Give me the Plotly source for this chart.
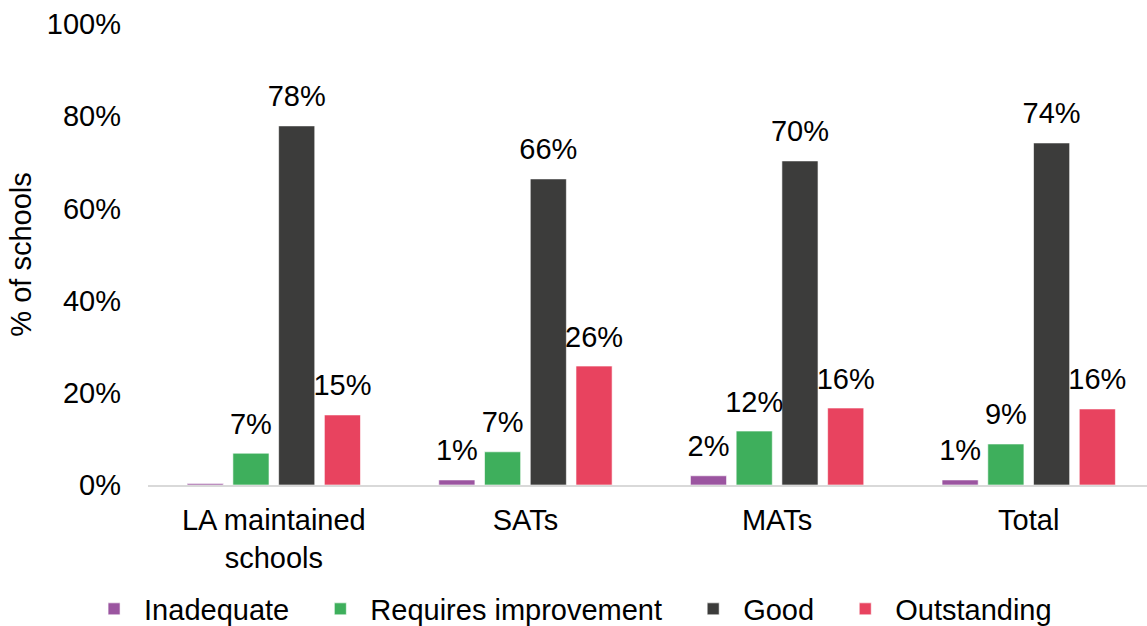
import plotly.graph_objects as go

categories = ["LA maintained<br>schools", "SATs", "MATs", "Total"]
inadequate = [0.3, 1.1, 2.0, 1.1]
requires_improvement = [6.9, 7.2, 11.7, 8.9]
good = [77.9, 66.4, 70.3, 74.2]
outstanding = [15.2, 25.8, 16.7, 16.5]
inadequate_labels = ["", "1%", "2%", "1%"]
requires_labels = ["7%", "7%", "12%", "9%"]
good_labels = ["78%", "66%", "70%", "74%"]
outstanding_labels = ["15%", "26%", "16%", "16%"]
y_ticks = [0, 20, 40, 60, 80, 100]
y_tick_labels = ["0%", "20%", "40%", "60%", "80%", "100%"]

series = [
    ("Inadequate", inadequate, inadequate_labels, "#9B55A0"),
    ("Requires improvement", requires_improvement, requires_labels, "#3EAF5C"),
    ("Good", good, good_labels, "#3C3C3B"),
    ("Outstanding", outstanding, outstanding_labels, "#E8435F"),
]

FS = 29
NBSP = "\u00a0"
fig = go.Figure()
for i, (name, vals, labels, color) in enumerate(series):
    legend_name = name + (NBSP * 2 if i < len(series) - 1 else "")
    fig.add_trace(go.Bar(
        name=legend_name, x=categories, y=vals,
        offsetgroup=str(i), alignmentgroup="a",
        marker=dict(color=color, line=dict(color="rgba(255,255,255,0.6)", width=1)),
        hoverinfo="skip",
    ))
for i, (name, vals, labels, color) in enumerate(series):
    fig.add_trace(go.Scatter(
        x=categories, y=vals, text=labels, mode="markers+text",
        offsetgroup=str(i), alignmentgroup="a",
        marker=dict(size=18, opacity=0), textposition="top center",
        textfont=dict(size=FS, color="#000000"),
        showlegend=False, hoverinfo="skip", cliponaxis=False,
    ))

fig.update_layout(
    width=1147, height=626,
    margin=dict(l=148, r=0, t=24, b=141, autoexpand=False),
    paper_bgcolor="white", plot_bgcolor="white",
    font=dict(family="Liberation Sans, Arial, sans-serif", size=FS, color="#000000"),
    barmode="group", bargap=0.273, bargroupgap=0.21,
    scattermode="group", scattergap=0.273,
    legend=dict(orientation="h", x=-0.064, xanchor="left", y=-0.269, yanchor="middle",
                font=dict(size=FS), itemwidth=50, traceorder="normal"),
)
fig.update_xaxes(showgrid=False, showline=True, linecolor="#D9D9D9", linewidth=2,
                 range=[-0.5, 3.47],
                 ticks="", tickfont=dict(size=FS), ticklabelstandoff=8, automargin=False)
fig.update_yaxes(range=[0, 100], tickvals=y_ticks, ticktext=y_tick_labels,
                 showgrid=False, zeroline=False, showline=False, ticks="",
                 ticklabelstandoff=26, automargin=False,
                 title=dict(text="% of schools", font=dict(size=FS), standoff=6))

fig.write_html("out.html", config={"displayModeBar": False},
               post_script="document.body.style.margin='0';")
